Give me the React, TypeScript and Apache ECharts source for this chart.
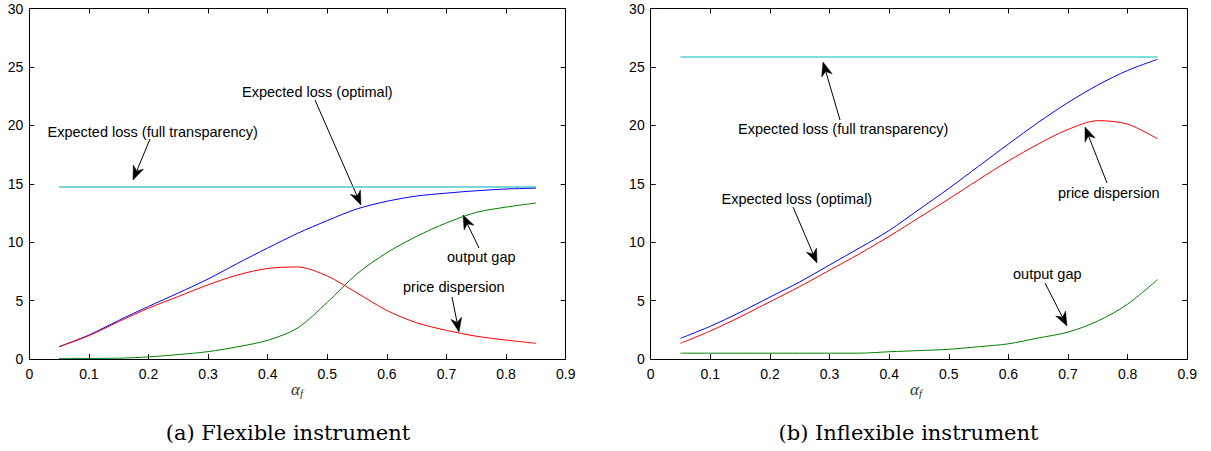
import React, { useEffect, useRef } from "react";
import * as echarts from "echarts";

// alpha_f sample points
const X = [0.05, 0.1, 0.15, 0.2, 0.25, 0.3, 0.35, 0.4, 0.45, 0.5, 0.55, 0.6, 0.65, 0.7, 0.75, 0.8, 0.85];

// (a) Flexible instrument
const A_FULL = [14.72, 14.72, 14.72, 14.72, 14.72, 14.72, 14.72, 14.72, 14.72, 14.72, 14.72, 14.72, 14.72, 14.72, 14.72, 14.72, 14.72];
const A_OPT = [1.05, 2.05, 3.3, 4.5, 5.65, 6.85, 8.2, 9.5, 10.75, 11.85, 12.85, 13.5, 13.95, 14.2, 14.4, 14.55, 14.62];
const A_PRICE = [1.05, 2.0, 3.2, 4.35, 5.35, 6.35, 7.2, 7.75, 7.88, 7.1, 5.65, 4.15, 3.1, 2.45, 1.95, 1.62, 1.34];
const A_GAP = [0.05, 0.05, 0.07, 0.18, 0.38, 0.63, 1.05, 1.6, 2.65, 4.85, 7.3, 9.1, 10.5, 11.65, 12.55, 13.0, 13.35];

// (b) Inflexible instrument
const B_FULL = [25.85, 25.85, 25.85, 25.85, 25.85, 25.85, 25.85, 25.85, 25.85, 25.85, 25.85, 25.85, 25.85, 25.85, 25.85, 25.85, 25.85];
const B_OPT = [1.77, 2.8, 4.0, 5.3, 6.6, 8.05, 9.5, 11.0, 12.8, 14.6, 16.5, 18.4, 20.25, 21.95, 23.45, 24.7, 25.65];
const B_PRICE = [1.34, 2.4, 3.6, 4.9, 6.2, 7.6, 9.0, 10.5, 12.1, 13.7, 15.35, 16.95, 18.4, 19.65, 20.4, 20.1, 18.85];
const B_GAP = [0.5, 0.5, 0.5, 0.5, 0.5, 0.5, 0.5, 0.62, 0.72, 0.83, 1.05, 1.3, 1.8, 2.3, 3.25, 4.7, 6.8];

const X_TICKS_MAX = 0.9;
const Y_MAX = 30;

const CAPTIONS = ["(a) Flexible instrument", "(b) Inflexible instrument"];

// annotation layout (pixels): text left/center-y, arrow start -> tip
const NOTES = [
  { t: "Expected loss (full transparency)", x: 47.5, y: 132, from: [150, 139], to: [133, 180] },
  { t: "Expected loss (optimal)", x: 242, y: 92, from: [315, 100], to: [361, 205] },
  { t: "output gap", x: 447, y: 257, from: [479, 248], to: [463, 215] },
  { t: "price dispersion", x: 403, y: 287, from: [452, 297], to: [459, 332] },
  { t: "Expected loss (full transparency)", x: 738, y: 129, from: [840, 120], to: [823, 62] },
  { t: "Expected loss (optimal)", x: 721.5, y: 199, from: [793, 207], to: [817, 263] },
  { t: "price dispersion", x: 1058, y: 193, from: [1107, 183], to: [1085, 127] },
  { t: "output gap", x: 1013, y: 274, from: [1045, 283], to: [1067, 326] },
];

const GRIDS = [
  { left: 29.3, top: 8.5, width: 536.4, height: 350.5 },
  { left: 650.7, top: 8.5, width: 536.6, height: 350.5 },
];

function pairs(ys: number[]) {
  return X.map((x, i) => [x, ys[i]]);
}

function arrow(from: number[], to: number[]) {
  const dx = to[0] - from[0];
  const dy = to[1] - from[1];
  const len = Math.hypot(dx, dy);
  const ux = dx / len, uy = dy / len;
  const nx = -uy, ny = ux;
  const L = 14, W = 5.5;
  const bx = to[0] - ux * L, by = to[1] - uy * L;
  const notch = [to[0] - ux * L * 0.7, to[1] - uy * L * 0.7];
  return [
    {
      type: "line",
      shape: { x1: from[0], y1: from[1], x2: notch[0], y2: notch[1] },
      style: { stroke: "#000", lineWidth: 1 },
      silent: true,
    },
    {
      type: "polygon",
      shape: {
        points: [
          [to[0], to[1]],
          [bx + nx * W, by + ny * W],
          notch,
          [bx - nx * W, by - ny * W],
        ],
      },
      style: { fill: "#000", stroke: "#000", lineWidth: 0.5 },
      silent: true,
    },
  ];
}

export default function App() {
  const ref = useRef<HTMLDivElement>(null);
  useEffect(() => {
    if (!ref.current) return;
    const chart = echarts.init(ref.current, null, { renderer: "svg" });
    const axisFont = { color: "#000", fontSize: 14, fontFamily: "Liberation Sans, Arial, sans-serif" };
    const xAxes: any[] = [];
    const yAxes: any[] = [];
    GRIDS.forEach((_, gi) => {
      const common = {
        gridIndex: gi,
        type: "value",
        min: 0,
        splitLine: { show: false },
        axisLine: { show: true, onZero: false, lineStyle: { color: "#000", width: 1 } },
        axisTick: { show: true, inside: true, length: 5, lineStyle: { color: "#000", width: 1 } },
      };
      xAxes.push({
        ...common,
        position: "bottom",
        max: X_TICKS_MAX,
        interval: 0.1,
        axisLabel: {
          ...axisFont,
          margin: 8,
          formatter: (v: number) => (v === 0 ? "0" : v.toFixed(1)),
          showMaxLabel: true,
          showMinLabel: true,
        },
      });
      xAxes.push({
        ...common,
        position: "top",
        max: X_TICKS_MAX,
        interval: 0.1,
        axisLabel: { show: false },
      });
      yAxes.push({
        ...common,
        position: "left",
        max: Y_MAX,
        interval: 5,
        axisLabel: { ...axisFont, margin: 6 },
      });
      yAxes.push({
        ...common,
        position: "right",
        max: Y_MAX,
        interval: 5,
        axisLabel: { show: false },
      });
    });

    const mk = (gi: number, ys: number[], color: string, width = 1) => ({
      type: "line",
      xAxisIndex: gi * 2,
      yAxisIndex: gi * 2,
      data: pairs(ys),
      showSymbol: false,
      smooth: 0.3,
      lineStyle: { color, width },
      itemStyle: { color },
      silent: true,
    });

    const graphics: any[] = [];
    NOTES.forEach((n) => {
      graphics.push({
        type: "text",
        x: n.x,
        y: n.y,
        silent: true,
        style: {
          text: n.t,
          fill: "#000",
          font: "14.5px 'Liberation Sans', Arial, sans-serif",
          verticalAlign: "middle",
          textVerticalAlign: "middle",
        },
      });
      graphics.push(...arrow(n.from, n.to));
    });
    const capX = [288, 908.5];
    const axNameX = [297, 916];
    CAPTIONS.forEach((c, i) => {
      graphics.push({
        type: "text",
        x: capX[i],
        y: 433,
        silent: true,
        style: {
          text: c,
          fill: "#000",
          font: "21px 'DejaVu Serif', serif",
          align: "center",
          textAlign: "center",
          verticalAlign: "middle",
          textVerticalAlign: "middle",
        },
      });
      graphics.push({
        type: "text",
        x: axNameX[i],
        y: 389,
        silent: true,
        style: {
          text: "{a|α}{s|f}",
          align: "center",
          textAlign: "center",
          verticalAlign: "middle",
          textVerticalAlign: "middle",
          rich: {
            a: { fontFamily: "Liberation Serif, serif", fontStyle: "italic", fontSize: 17, fill: "#333", color: "#333" },
            s: { fontFamily: "Liberation Serif, serif", fontStyle: "italic", fontSize: 11, fill: "#333", color: "#333", padding: [8, 0, 0, 0] },
          },
        },
      });
    });

    chart.setOption({
      animation: false,
      backgroundColor: "#fff",
      grid: GRIDS,
      xAxis: xAxes,
      yAxis: yAxes,
      series: [
        mk(0, A_FULL, "#4cc9c9", 1.6),
        mk(0, A_OPT, "#0000ff"),
        mk(0, A_GAP, "#008000"),
        mk(0, A_PRICE, "#ff0000"),
        mk(1, B_FULL, "#00bfbf", 1.2),
        mk(1, B_OPT, "#0000ff"),
        mk(1, B_PRICE, "#ff0000"),
        mk(1, B_GAP, "#008000"),
      ],
      graphic: graphics,
    });
    return () => chart.dispose();
  }, []);
  return (
    <div
      ref={ref}
      style={{ position: "absolute", left: 0, top: 0, width: 1211, height: 451, background: "#fff" }}
    />
  );
}
